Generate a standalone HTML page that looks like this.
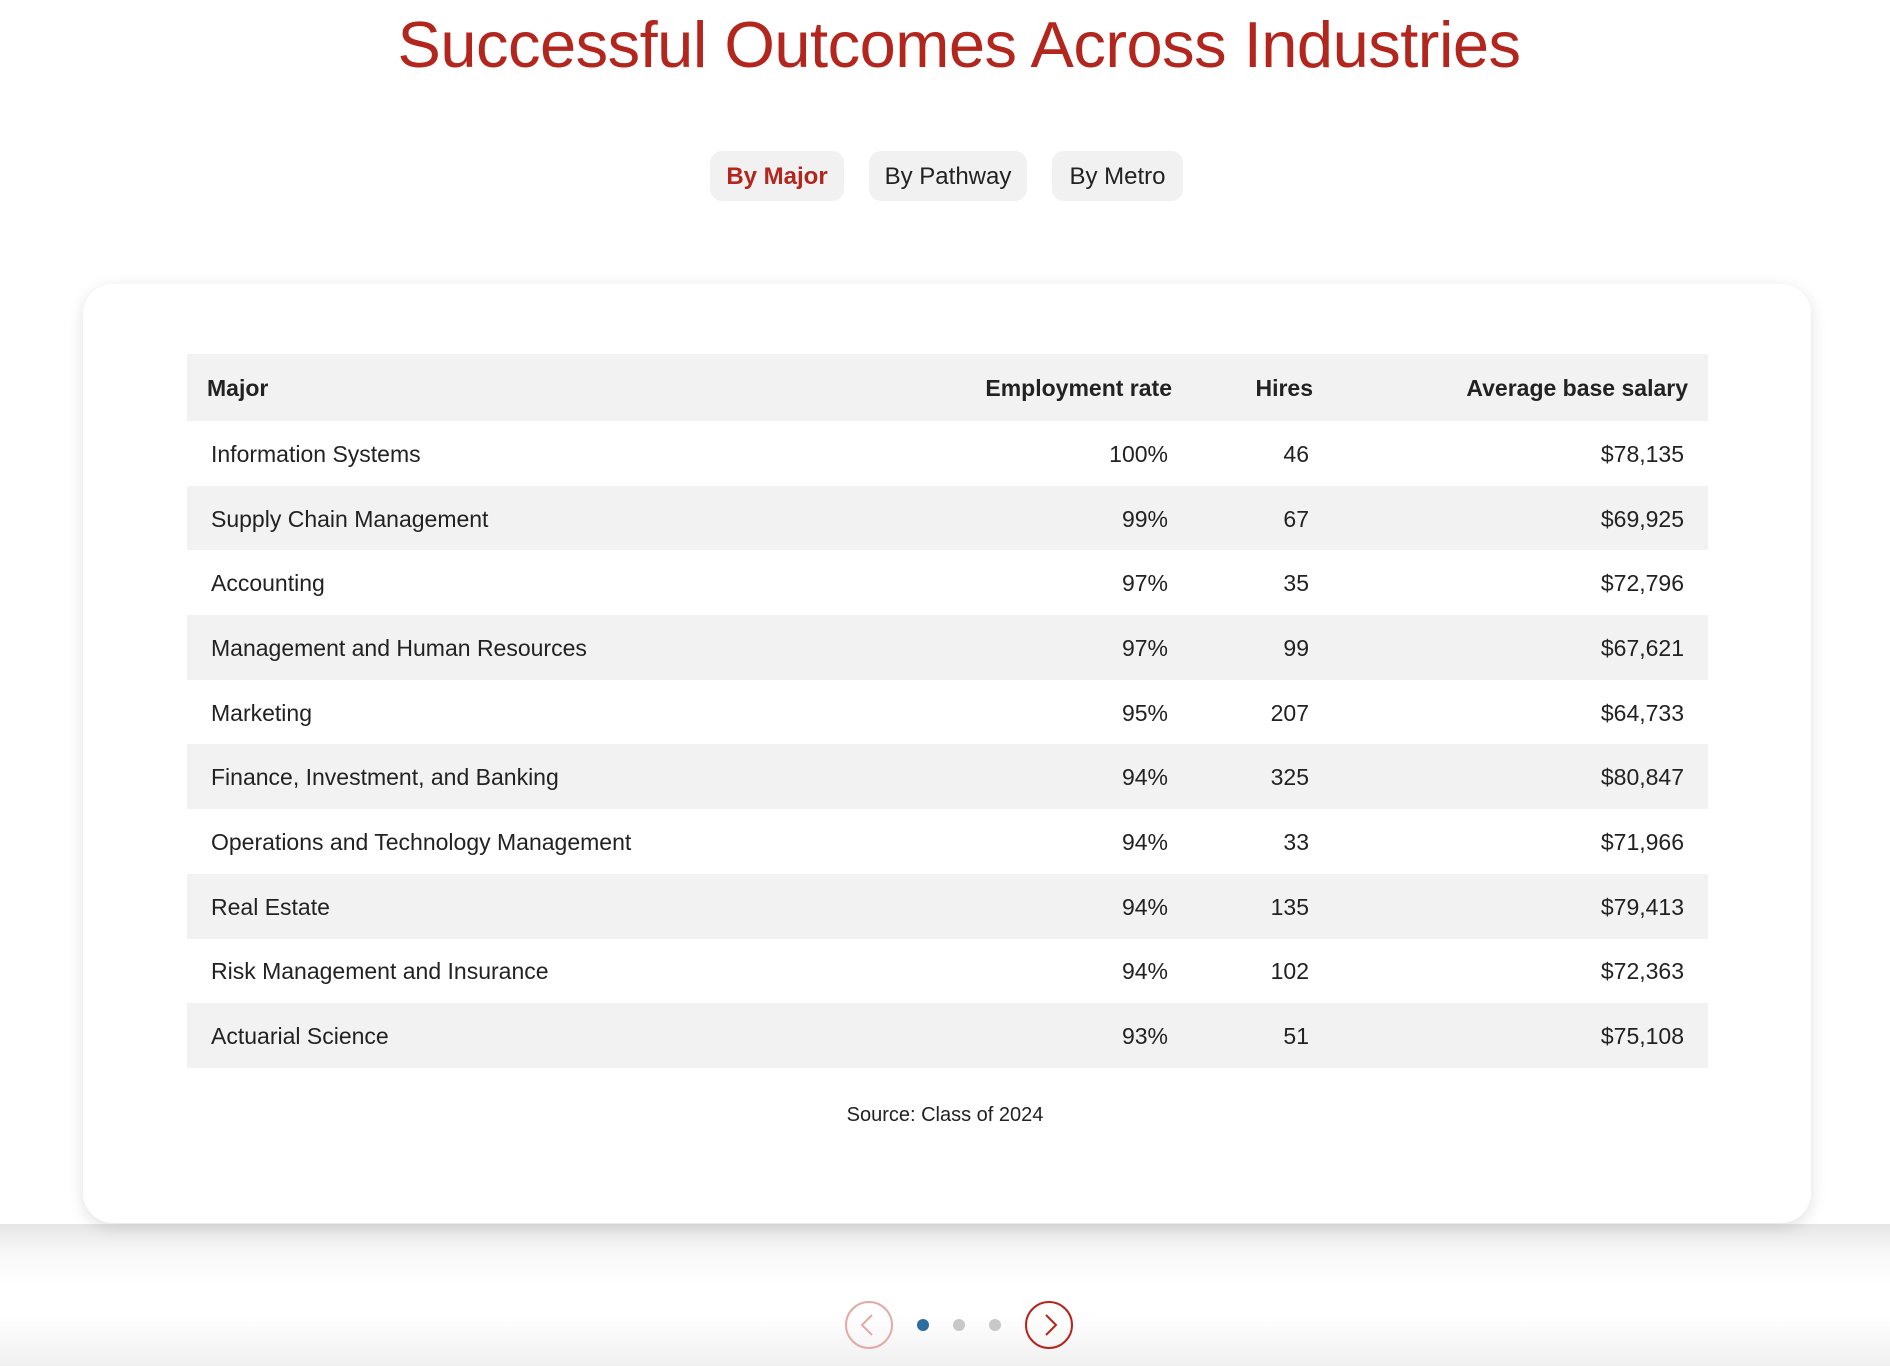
<!DOCTYPE html>
<html><head><meta charset="utf-8"><style>
*{margin:0;padding:0;box-sizing:border-box}
body{width:1890px;height:1366px;position:relative;background:#fff;font-family:"Liberation Sans",sans-serif;color:#222;overflow:hidden}
.bottom{position:absolute;left:0;top:1224px;width:1890px;height:142px;background:linear-gradient(#e6e6e6 0px,#f8f8f8 30px,#fff 60px,#fff 90px,#f0f0f0 142px)}
h1{position:absolute;top:7px;left:0;width:1918px;text-align:center;font-weight:normal;font-size:65px;color:#b3261e;letter-spacing:-0.5px}
.tab{position:absolute;top:151px;height:50px;border-radius:12px;background:#f1f1f1;font-size:24px;line-height:52px;text-align:center;color:#222}
.card{position:absolute;left:83px;top:284px;width:1728px;height:939px;background:#fff;border-radius:30px;box-shadow:0 4px 16px rgba(0,0,0,0.12)}
table{position:absolute;left:187px;top:354px;width:1521px;border-collapse:collapse;font-size:23px}
td,th{height:64.7px;padding:0;padding-top:2px}
th{height:67px;font-weight:bold;background:#f2f2f2}
tr:nth-child(odd) td{background:#f2f2f2}
.c1{text-align:left;padding-left:24px}
th.c1{padding-left:20px}
.c2{text-align:right;width:304px;padding-right:24px}
.c3{text-align:right;width:141px;padding-right:24px}
.c4{text-align:right;padding-right:24px;width:375px}
th.c2,th.c3,th.c4{padding-right:20px}
.src{position:absolute;top:1104px;left:0;width:1890px;text-align:center;font-size:20px}
.circ{position:absolute;top:1301px;width:48px;height:48px;border-radius:50%;border:2px solid #b3261e}
.dot{position:absolute;top:1319px;width:12px;height:12px;border-radius:50%;background:#c8c8c8}
</style></head><body>
<div class="bottom"></div>
<h1>Successful Outcomes Across Industries</h1>
<div class="tab" style="left:710px;width:134px;color:#b3261e;font-weight:bold">By Major</div>
<div class="tab" style="left:869px;width:158px">By Pathway</div>
<div class="tab" style="left:1052px;width:131px">By Metro</div>
<div class="card"></div>
<table>
<tr><th class="c1">Major</th><th class="c2">Employment rate</th><th class="c3">Hires</th><th class="c4">Average base salary</th></tr>
<tr><td class="c1">Information Systems</td><td class="c2">100%</td><td class="c3">46</td><td class="c4">$78,135</td></tr>
<tr><td class="c1">Supply Chain Management</td><td class="c2">99%</td><td class="c3">67</td><td class="c4">$69,925</td></tr>
<tr><td class="c1">Accounting</td><td class="c2">97%</td><td class="c3">35</td><td class="c4">$72,796</td></tr>
<tr><td class="c1">Management and Human Resources</td><td class="c2">97%</td><td class="c3">99</td><td class="c4">$67,621</td></tr>
<tr><td class="c1">Marketing</td><td class="c2">95%</td><td class="c3">207</td><td class="c4">$64,733</td></tr>
<tr><td class="c1">Finance, Investment, and Banking</td><td class="c2">94%</td><td class="c3">325</td><td class="c4">$80,847</td></tr>
<tr><td class="c1">Operations and Technology Management</td><td class="c2">94%</td><td class="c3">33</td><td class="c4">$71,966</td></tr>
<tr><td class="c1">Real Estate</td><td class="c2">94%</td><td class="c3">135</td><td class="c4">$79,413</td></tr>
<tr><td class="c1">Risk Management and Insurance</td><td class="c2">94%</td><td class="c3">102</td><td class="c4">$72,363</td></tr>
<tr><td class="c1">Actuarial Science</td><td class="c2">93%</td><td class="c3">51</td><td class="c4">$75,108</td></tr>
</table>
<div class="src">Source: Class of 2024</div>
<div class="circ" style="left:845px;border-color:#e2aaa6"><svg width="44" height="44" style="position:absolute;left:0;top:0"><polyline points="25,12 15,22 25,32" fill="none" stroke="#e2aaa6" stroke-width="2"/></svg></div>
<div class="dot" style="left:917px;background:#2e6e9e"></div>
<div class="dot" style="left:953px"></div>
<div class="dot" style="left:989px"></div>
<div class="circ" style="left:1025px"><svg width="44" height="44" style="position:absolute;left:0;top:0"><polyline points="19,12 29,22 19,32" fill="none" stroke="#b3261e" stroke-width="2"/></svg></div>
</body></html>
